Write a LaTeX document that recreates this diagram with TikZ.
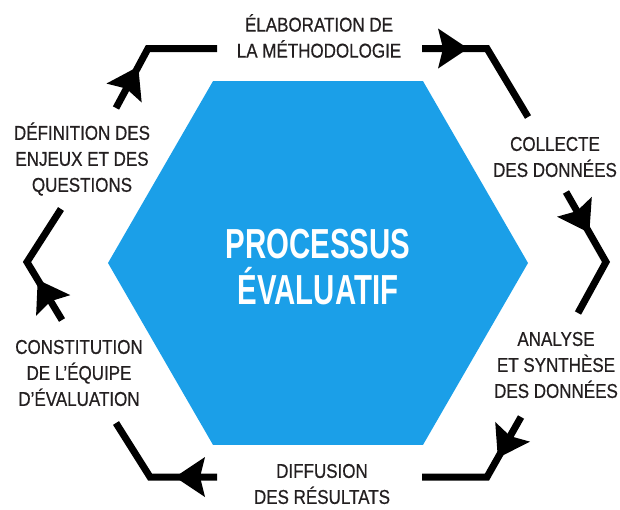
\documentclass[tikz,border=0pt]{standalone}
\usepackage{fontspec}
\setmainfont{Liberation Sans}[FakeStretch=0.85,FakeBold=0.6]
\newfontfamily\titlefont{Liberation Sans}[FakeStretch=0.70]
\usetikzlibrary{arrows.meta,decorations.markings,shapes.geometric}
\definecolor{hexblue}{HTML}{1B9FE8}
\definecolor{ink}{HTML}{231F20}
\begin{document}
\begin{tikzpicture}[x=1pt,y=-1pt,
  hexagon/.style={regular polygon, regular polygon sides=6, minimum size=420pt,
    inner sep=0pt, outer sep=0pt, fill=hexblue, draw=none},
  titletext/.style={text=white, align=center, font=\titlefont\bfseries\fontsize{42}{46}\selectfont},
  label/.style={text=ink, align=center, inner sep=0pt, font=\fontsize{20}{26}\selectfont},
  flow/.style={draw=black, line width=7pt, line join=miter},
  arrowat/.style={postaction={decorate}, decoration={markings,
    mark=at position #1 with {\fill[black] (0,0) -- (-30,20) -- (-25,0) -- (-30,-20) -- cycle;}}}]
\useasboundingbox (0,0) rectangle (620,509);
\node[hexagon] (hex) at (318,263) {};
\node[titletext] (title) at (318,267) {PROCESSUS\\ÉVALUATIF};
% labels
\node[label] (elab) at (319,36) {ÉLABORATION DE\\LA MÉTHODOLOGIE};
\node[label] (coll) at (555,157) {COLLECTE\\DES DONNÉES};
\node[label] (anal) at (556,365) {ANALYSE\\ET SYNTHÈSE\\DES DONNÉES};
\node[label] (diff) at (322,484) {DIFFUSION\\DES RÉSULTATS};
\node[label] (cons) at (79,373) {CONSTITUTION\\DE L’ÉQUIPE\\D’ÉVALUATION};
\node[label] (defi) at (82,159) {DÉFINITION DES\\ENJEUX ET DES\\QUESTIONS};
% connector ends and corners
\coordinate (s1) at (116,108); \coordinate (k1) at (148,48.5); \coordinate (e1) at (217,48.5);
\coordinate (s2) at (422,48.5); \coordinate (k2) at (487,48.5); \coordinate (e2) at (528,117);
\coordinate (s3) at (566,192); \coordinate (k3) at (606,262); \coordinate (e3) at (578,313);
\coordinate (s4) at (521,417); \coordinate (k4) at (487,477); \coordinate (e4) at (422,477);
\coordinate (s5) at (217,477); \coordinate (k5) at (150,477); \coordinate (e5) at (116,423);
\coordinate (s6) at (62,320); \coordinate (k6) at (27,262); \coordinate (e6) at (61,209);
% connectors
\draw[flow, arrowat=47pt] (s1) -- (k1) -- (e1);
\draw[flow, arrowat=46pt] (s2) -- (k2) -- (e2);
\draw[flow, arrowat=47pt] (s3) -- (k3) -- (e3);
\draw[flow, arrowat=47pt] (s4) -- (k4) -- (e4);
\draw[flow, arrowat=42pt] (s5) -- (k5) -- (e5);
\draw[flow, arrowat=47pt] (s6) -- (k6) -- (e6);
\end{tikzpicture}
\end{document}
